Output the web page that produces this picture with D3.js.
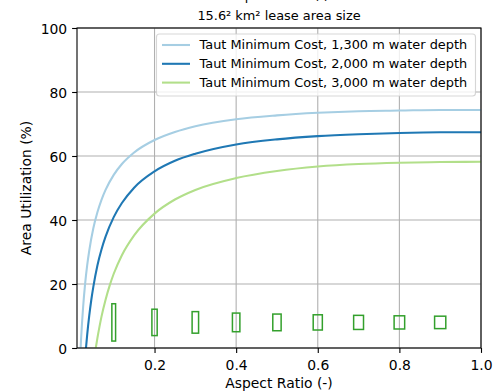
<!DOCTYPE html>
<html>
<head>
<meta charset="utf-8">
<script src="https://cdn.jsdelivr.net/npm/d3@7"></script>
<style>
  html, body { margin: 0; padding: 0; background: #fff; }
  svg { display: block; }
  text { font-family: "DejaVu Sans", sans-serif; fill: #000; }
</style>
</head>
<body>
<svg id="chart" width="493" height="392"></svg>
<script>
// ---------- data ----------
const titleLines = ["Aspect Ratio (-)", "15.6\u00b2 km\u00b2 lease area size"];
const xLabel = "Aspect Ratio (-)";
const yLabel = "Area Utilization (%)";

const seriesNames = [
  "Taut Minimum Cost, 1,300 m water depth",
  "Taut Minimum Cost, 2,000 m water depth",
  "Taut Minimum Cost, 3,000 m water depth"
];

const aspect1300 = [0.0189, 0.02, 0.025, 0.03, 0.035, 0.04, 0.05, 0.06, 0.07, 0.08, 0.1, 0.12, 0.15, 0.2, 0.25, 0.3, 0.4, 0.5, 0.6, 0.7, 0.8, 0.9, 1.0];
const util1300   = [0, 2.8, 12.8, 20.2, 25.9, 30.4, 37.4, 42.4, 46.3, 49.4, 54.1, 57.5, 61.1, 65.0, 67.5, 69.3, 71.5, 72.7, 73.5, 74.0, 74.2, 74.4, 74.4];

const aspect2000 = [0.032, 0.035, 0.04, 0.045, 0.05, 0.06, 0.07, 0.08, 0.1, 0.12, 0.15, 0.2, 0.25, 0.3, 0.4, 0.5, 0.6, 0.7, 0.8, 0.9, 1.0];
const util2000   = [0, 4.2, 10.1, 15.0, 19.1, 25.8, 30.8, 34.8, 40.9, 45.3, 50.1, 55.2, 58.5, 60.7, 63.6, 65.2, 66.2, 66.8, 67.2, 67.4, 67.4];

const aspect3000 = [0.056, 0.06, 0.065, 0.07, 0.08, 0.09, 0.1, 0.12, 0.15, 0.2, 0.25, 0.3, 0.4, 0.5, 0.6, 0.7, 0.8, 0.9, 1.0];
const util3000   = [0, 3.1, 6.6, 9.8, 15.1, 19.5, 23.2, 29.0, 35.2, 42.0, 46.4, 49.4, 53.1, 55.3, 56.7, 57.5, 57.9, 58.1, 58.2];

// example lease shapes drawn at these aspect ratios
const shapeAspects = [0.1, 0.2, 0.3, 0.4, 0.5, 0.6, 0.7, 0.8, 0.9];
const shapeLevel = 8;

const xTicks = [0.2, 0.4, 0.6, 0.8, 1.0];
const yTicks = [0, 20, 40, 60, 80, 100];

// ---------- layout / style ----------
const L = 77, R = 481, T = 28, B = 348;
const colors = ["#a6cee3", "#1f78b4", "#b2df8a"];
const shapeColor = "#33a02c";
const shapeSidePx = 11.8;

const svg = d3.select("#chart");
const x = d3.scaleLinear().domain([0.01, 1.0]).range([L, R]);
const y = d3.scaleLinear().domain([0, 100]).range([B, T]);

svg.append("defs").append("clipPath").attr("id", "plotclip")
  .append("rect").attr("x", L).attr("y", T).attr("width", R - L).attr("height", B - T);

// grid
const grid = svg.append("g");
grid.selectAll(".gx").data(xTicks).join("line")
  .attr("x1", d => x(d)).attr("x2", d => x(d)).attr("y1", T).attr("y2", B)
  .attr("stroke", "#b0b0b0").attr("stroke-width", 1.1);
grid.selectAll(".gy").data(yTicks).join("line")
  .attr("x1", L).attr("x2", R).attr("y1", d => y(d)).attr("y2", d => y(d))
  .attr("stroke", "#b0b0b0").attr("stroke-width", 1.1);

// curves
const seriesData = [
  aspect1300.map((a, i) => [a, util1300[i]]),
  aspect2000.map((a, i) => [a, util2000[i]]),
  aspect3000.map((a, i) => [a, util3000[i]])
];
const line = d3.line().x(d => x(d[0])).y(d => y(d[1])).curve(d3.curveMonotoneX);
const plot = svg.append("g").attr("clip-path", "url(#plotclip)");
plot.selectAll(".curve").data(seriesData).join("path")
  .attr("d", line).attr("fill", "none")
  .attr("stroke", (d, i) => colors[i]).attr("stroke-width", 2.08);

// lease shapes
plot.selectAll(".shape").data(shapeAspects).join("rect")
  .attr("x", d => x(d) - shapeSidePx * Math.sqrt(d) / 2)
  .attr("y", d => y(shapeLevel) - shapeSidePx / Math.sqrt(d) / 2)
  .attr("width", d => shapeSidePx * Math.sqrt(d))
  .attr("height", d => shapeSidePx / Math.sqrt(d))
  .attr("fill", "none").attr("stroke", shapeColor).attr("stroke-width", 1.5);

// axes
const fmtX = d3.format(".1f");
const xAxis = d3.axisBottom(x).tickValues(xTicks).tickFormat(fmtX).tickSizeOuter(0).tickSize(4.9).tickPadding(4);
const yAxis = d3.axisLeft(y).tickValues(yTicks).tickFormat(d3.format("d")).tickSizeOuter(0).tickSize(4.9).tickPadding(4.9);
const gx = svg.append("g").attr("transform", `translate(0,${B})`).call(xAxis);
const gy = svg.append("g").attr("transform", `translate(${L},0)`).call(yAxis);
[gx, gy].forEach(g => {
  g.select(".domain").remove();
  g.selectAll(".tick line").attr("stroke", "#000").attr("stroke-width", 1.1);
  g.selectAll(".tick text").attr("font-family", "DejaVu Sans").attr("font-size", 13.9).attr("fill", "#000");
});
gx.selectAll(".tick text").attr("dy", null).attr("y", 21.5);
gy.selectAll(".tick text").attr("dy", "0.36em");

// spines
svg.append("rect").attr("x", L).attr("y", T).attr("width", R - L).attr("height", B - T)
  .attr("fill", "none").attr("stroke", "#000").attr("stroke-width", 1.1);

// axis labels
svg.append("text").attr("x", (L + R) / 2).attr("y", 387.5).attr("text-anchor", "middle")
  .attr("font-size", 13.9).text(xLabel);
svg.append("text").attr("transform", `translate(31.3,${(T + B) / 2}) rotate(-90)`)
  .attr("text-anchor", "middle").attr("font-size", 13.9).text(yLabel);

// title
svg.selectAll(".title").data(titleLines).join("text")
  .attr("x", (L + R) / 2).attr("y", (d, i) => 0 + i * 19.5)
  .attr("text-anchor", "middle").attr("font-size", 12.9).text(d => d);

// legend
const lg = svg.append("g");
lg.append("rect").attr("x", 156.5).attr("y", 34).attr("width", 319).attr("height", 62)
  .attr("rx", 3).attr("fill", "#fff").attr("fill-opacity", 0.8)
  .attr("stroke", "#cccccc").attr("stroke-opacity", 0.8).attr("stroke-width", 1.1);
const rows = lg.selectAll(".row").data(seriesNames).join("g")
  .attr("transform", (d, i) => `translate(0,${45 + i * 18.8})`);
rows.append("line").attr("x1", 162).attr("x2", 190).attr("y1", 0).attr("y2", 0)
  .attr("stroke", (d, i) => colors[i]).attr("stroke-width", 2.08);
rows.append("text").attr("x", 199.5).attr("y", 0).attr("dy", "0.33em")
  .attr("font-size", 12.9).text(d => d);
</script>
</body>
</html>
